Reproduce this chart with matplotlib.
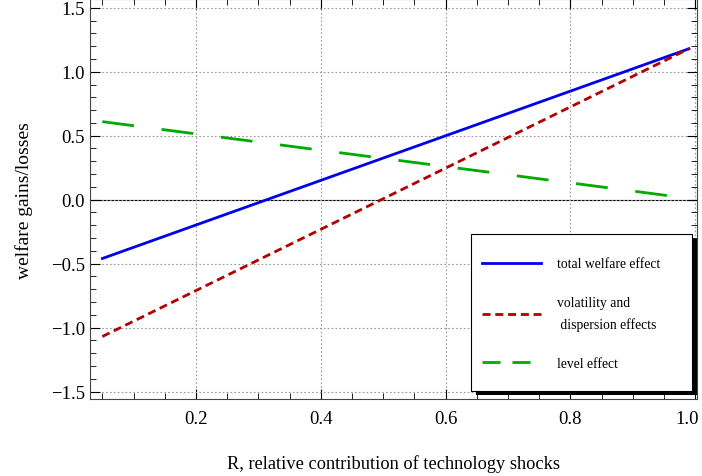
import numpy as np
import matplotlib.pyplot as plt
from matplotlib.ticker import MultipleLocator
from matplotlib.patches import Rectangle
from matplotlib.lines import Line2D
from matplotlib.transforms import ScaledTranslation

plt.rcParams['font.family'] = ['Liberation Serif', 'DejaVu Serif']

# end points of the three (linear) effects
R = [0.05, 0.99]
total = [-0.46, 1.18]
volatility = [-1.07, 1.18]
level = [0.61, 0.01]
labels = ['total welfare effect', 'volatility and\n dispersion effects', 'level effect']

fig = plt.figure(figsize=(7.02, 4.77), dpi=100)
ax = fig.add_axes([0.128, 0.161, 0.865, 0.838])

ax.grid(True, color='#999999', linestyle=(0, (1.5, 2)), linewidth=0.8)
ax.axhline(0, color='black', linewidth=0.8, zorder=1)

l1, = ax.plot(R, total, color='#0000ee', linewidth=2)
l2, = ax.plot(R, volatility, color='#b20000', linewidth=2, dashes=(2.9, 1.7))
ax.plot(R, level, color='#00aa00', linewidth=2, dashes=(11.5, 10))
# the legend sample of the level effect uses shorter dashes
l3 = Line2D([], [], color='#00aa00', linewidth=2, dashes=(6.5, 4.3))

ax.set_xlim(0.03, 1.003)
ax.set_ylim(-1.56, 1.565)
ax.set_xticks([0.2, 0.4, 0.6, 0.8, 1.0])
ax.set_yticks([-1.5, -1.0, -0.5, 0.0, 0.5, 1.0, 1.5])
ax.set_yticklabels(['\u22121.5', '\u22121.0', '\u22120.5', '0.0', '0.5', '1.0', '1.5'])
ax.xaxis.set_minor_locator(MultipleLocator(0.05))
ax.yaxis.set_minor_locator(MultipleLocator(0.1))
ax.tick_params(which='both', direction='in', top=True, right=True, labelsize=13.5)
ax.tick_params(which='major', length=7, width=0.8)
ax.tick_params(which='minor', length=4, width=0.6)
ax.tick_params(axis='x', pad=8)
for s in ax.spines.values():
    s.set_color('#444444')

# keep the last x label inside the picture
last = ax.get_xticklabels()[-1]
last.set_transform(last.get_transform() + ScaledTranslation(-6 / 72, 0, fig.dpi_scale_trans))

ax.set_xlabel('R, relative contribution of technology shocks', fontsize=13.2, labelpad=19)
ax.set_ylabel('welfare gains/losses', fontsize=14, labelpad=13)

# legend box drawn by hand: white frame with a heavy black shadow
box = (0.628, 0.0205, 0.364, 0.3925)
shadow_tr = ax.transAxes + ScaledTranslation(3.6 / 72, -3.2 / 72, fig.dpi_scale_trans)
ax.add_patch(Rectangle(box[:2], box[2], box[3], transform=shadow_tr,
                       facecolor='black', edgecolor='none', zorder=4.5, clip_on=False))
ax.add_patch(Rectangle(box[:2], box[2], box[3], transform=ax.transAxes,
                       facecolor='white', edgecolor='black', linewidth=0.8,
                       zorder=4.6, clip_on=False))

leg = ax.legend([l1, l2, l3], labels, loc='upper left', bbox_to_anchor=(0.646, 0.355),
                frameon=False, fontsize=9.8, handlelength=4.3, handletextpad=1.2,
                labelspacing=1.9, borderpad=0, borderaxespad=0)
leg.get_texts()[1].set_linespacing(1.75)

fig.savefig('out.png', dpi=100)
